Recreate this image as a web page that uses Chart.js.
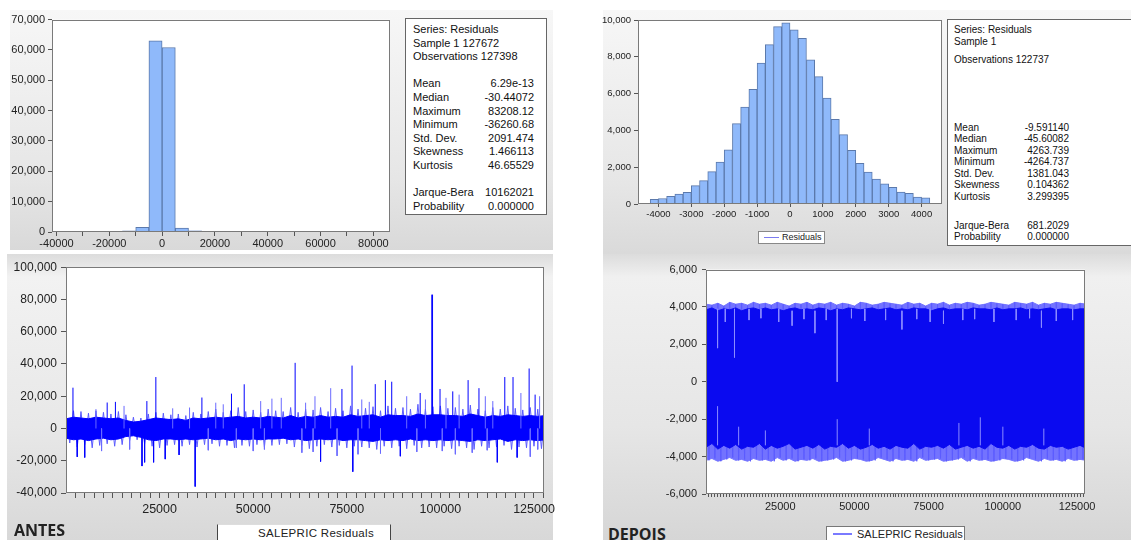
<!DOCTYPE html>
<html>
<head>
<meta charset="utf-8">
<script src="https://cdn.jsdelivr.net/npm/chart.js@4.4.1/dist/chart.umd.min.js"></script>
<style>
html, body { margin: 0; padding: 0; background: #fff; }
body { width: 1131px; height: 540px; position: relative; overflow: hidden;
       font-family: "Liberation Sans", Arial, sans-serif; color: #111; }
.panel { position: absolute; }
canvas { position: absolute; }
.stats { position: absolute; background: #fff; border: 1px solid #666; box-sizing: border-box; }
.row { display: flex; justify-content: space-between; white-space: nowrap; }
.legend { position: absolute; background: #fff; box-sizing: border-box; white-space: nowrap; }
.swatch { position: absolute; height: 0; }
.tag { position: absolute; font-family: "Open Sans", "Liberation Sans", sans-serif; font-weight: 700; font-size: 16px; color: #222; }
</style>
</head>
<body>

<div class="panel" style="left:10px;top:10px;width:543px;height:240px;background:linear-gradient(#f7f7f7,#e6e6e6 70%,#d9d9d9);"></div>
<div class="panel" style="left:603px;top:10px;width:528px;height:248px;background:linear-gradient(#f7f7f7,#e6e6e6 70%,#d9d9d9);"></div>
<div class="panel" style="left:7px;top:254px;width:546px;height:286px;background:linear-gradient(#dcdcdc,#f2f2f2 8%,#e8e8e8 60%,#d8d8d8);"></div>
<div class="panel" style="left:603px;top:254px;width:528px;height:286px;background:linear-gradient(#dcdcdc,#f0f0f0 8%,#e6e6e6 60%,#d6d6d6);"></div>

<canvas id="histAntes" width="395" height="254" style="left:10px;top:10px;"></canvas>
<canvas id="histDepois" width="362" height="216" style="left:596px;top:10px;"></canvas>
<canvas id="lineAntes" width="565" height="262" style="left:10px;top:256px;"></canvas>
<canvas id="lineDepois" width="470" height="262" style="left:650px;top:258px;"></canvas>

<div class="stats" id="statsAntes" style="left:405px;top:18px;width:142px;height:197px;padding:4px 12px 0 7px;font-size:11px;line-height:13.6px;"></div>
<div class="stats" id="statsDepois" style="left:947px;top:19px;width:200px;height:227px;padding:4px 0 0 6px;font-size:10px;line-height:11.5px;"></div>

<div class="legend" style="left:758px;top:231px;width:67px;height:13px;border:1px solid #888;font-size:9px;line-height:11px;padding-left:23px;color:#222;">
  <div class="swatch" style="left:5px;top:5px;width:15px;border-top:1px solid #7b7bf0;"></div>Residuals
</div>
<div class="legend" style="left:217px;top:524px;width:174px;height:20px;border-left:1px solid #444;border-right:1px solid #444;border-top:1px solid #ddd;font-size:11.5px;line-height:16px;padding-left:40px;letter-spacing:0.3px;color:#222;">SALEPRIC Residuals</div>
<div class="legend" style="left:826px;top:526px;width:139px;height:20px;border:1px solid #777;font-size:11px;line-height:14px;padding-left:30px;color:#222;">
  <div class="swatch" style="left:6px;top:6px;width:19px;border-top:2px solid #7a7aff;"></div>SALEPRIC Residuals
</div>
<div class="tag" style="left:14px;top:519px;">ANTES</div>
<div class="tag" style="left:608px;top:523px;">DEPOIS</div>

<script>
// ---- histogram data (bin lower edges and counts) ----
const antesBins = [-40000, -35000, -30000, -25000, -20000, -15000, -10000, -5000, 0, 5000, 10000, 15000,
                   20000, 25000, 30000, 35000, 40000, 45000, 50000, 55000, 60000, 65000, 70000, 75000, 80000];
const antesCounts = [60, 0, 30, 40, 80, 350, 1500, 63000, 60800, 1300, 400, 150,
                     80, 50, 40, 30, 20, 0, 0, 0, 0, 0, 0, 0, 15];
const antesBinWidth = 5000;
const antesHistTicks = [-40000, -30000, -20000, -10000, 0, 10000, 20000, 30000, 40000, 50000, 60000, 70000, 80000];
const antesHistLabels = [-40000, -20000, 0, 20000, 40000, 60000, 80000];

const depoisBins = [-4500, -4250, -4000, -3750, -3500, -3250, -3000, -2750, -2500, -2250, -2000, -1750,
                    -1500, -1250, -1000, -750, -500, -250, 0, 250, 500, 750, 1000, 1250,
                    1500, 1750, 2000, 2250, 2500, 2750, 3000, 3250, 3500, 3750, 4000, 4250];
const depoisCounts = [40, 250, 300, 420, 540, 630, 1000, 1270, 1760, 2280, 2950, 4370,
                      5270, 6230, 7660, 8660, 9640, 9840, 9460, 9000, 7840, 6920, 5760, 4600,
                      3770, 2920, 2210, 1740, 1360, 1090, 910, 650, 580, 380, 330, 40];
const depoisBinWidth = 250;
const depoisHistTicks = [-4000, -3000, -2000, -1000, 0, 1000, 2000, 3000, 4000];

// observation axis labels of the residual plots
const obsLabels = [25000, 50000, 75000, 100000, 125000];
const obsMax = 127672;

// ---- residual series, read as envelopes every 2000 observations ----
const residStep = 2000;
const antesOuterHi = [9000,11000,10500,9500,11000,10000,9000,10500,8500,7000,
  6500,9000,10000,9500,8500,9000,8000,10000,9000,10500,
  12000,10000,11000,13000,10500,11500,10000,12000,11000,10500,
  13000,10000,12000,11500,13000,10500,12500,11000,14000,12000,
  12500,13500,11000,14000,12500,13000,12000,15000,12000,13500,
  14000,12500,13000,12000,14500,12000,11000,13000,12000,14000,
  12500,11500,13000,12000,12500];
const antesOuterLo = [-9000,-11500,-10000,-12000,-10500,-9500,-11000,-10000,-7500,-7000,
  -9500,-11000,-12000,-10500,-10000,-11000,-10000,-11500,-10000,-9500,
  -11000,-10500,-12000,-10500,-11000,-10000,-11500,-10500,-10000,-9500,
  -11500,-10500,-12500,-11000,-10000,-11500,-10500,-12000,-11000,-11500,
  -12000,-13000,-11000,-12000,-11000,-12500,-10500,-12000,-11500,-12000,
  -11000,-12500,-11000,-12000,-13000,-11000,-12000,-11500,-10500,-13000,
  -11500,-12000,-11000,-12500,-12000];
const antesInnerHi = [6000,7000,6500,6000,7000,6500,6000,6500,5000,4000,
  4500,5500,6500,6000,5500,6000,5000,6500,6000,6500,
  7000,6500,7000,7500,6500,7000,6500,7500,7000,6500,
  8000,6500,7500,7000,8000,7000,7500,7000,8500,7500,
  8000,8500,7000,8500,8000,8000,7500,9000,8000,8500,
  8500,8000,8000,7500,9000,8000,7000,8000,7500,8500,
  8000,7500,8000,7500,8000];
const antesInnerLo = [-6000,-7000,-6500,-7500,-6500,-6000,-7000,-6500,-5000,-4500,
  -5500,-7000,-7500,-6500,-6500,-7000,-6500,-7000,-6500,-6000,
  -7000,-6500,-7500,-6500,-7000,-6500,-7000,-6500,-6500,-6000,
  -7000,-6500,-7500,-7000,-6500,-7000,-6500,-7500,-7000,-7000,
  -7500,-8000,-7000,-7500,-7000,-7500,-6500,-7500,-7000,-7500,
  -7000,-7500,-7000,-7500,-8000,-7000,-7500,-7000,-6500,-8000,
  -7000,-7500,-7000,-7500,-7000];
// isolated spikes [observation, residual]
const antesSpikesDark = [[1860,25300],[3000,-17600],[5000,-18000],[11000,16100],[13200,16500],[20300,-23300],
  [21000,-21000],[21600,17000],[23400,-21000],[24000,31900],[26500,-19000],[30200,-16400],[34500,-36000],
  [36300,19200],[44200,21600],[47600,27400],[61200,40700],[68000,-20500],[73700,24500],[76400,39000],
  [76600,-26800],[82600,27500],[85300,30000],[87000,29000],[89300,-17200],[94600,22000],[97700,83000],
  [97900,83000],[99900,24500],[103300,23000],[107400,30000],[110300,25000],[115200,-21000],[117200,31900],
  [119400,31900],[120500,-18000],[123700,37200],[125300,21000]];
const antesSpikesLight = [[70700,25000],[8000,12000],[15500,14000],[28500,12500],[33000,13000],[40000,16000],
  [42000,15000],[52000,17000],[55000,18500],[57500,19000],[64000,16000],[66500,20000],[79000,18000],
  [81000,16500],[91000,20000],[96000,18000],[101500,19000],[105000,21000],[112000,20000],[114000,17000],
  [121500,22000],[126500,20000],[9500,-14000],[17000,-13000],[38000,-13500],[45500,-12000],[50000,-14000],
  [53000,-13000],[63000,-15000],[66000,-14500],[72400,-17000],[78000,-16000],[84000,-15500],[93700,-14500],
  [100500,-14000],[104000,-16000],[108500,-15000],[112500,-13500],[124000,-17500],[126000,-13000]];

const depoisOuterHi = [4150,4100,4200,4050,4250,4150,4200,4100,4250,4150,
  4200,4100,4250,4150,4050,4200,4150,4250,4100,4200,
  4150,4250,4100,4200,4150,4050,4250,4200,4100,4150,
  4250,4200,4150,4100,4250,4150,4200,4050,4200,4150,
  4250,4100,4200,4150,4250,4200,4100,4150,4250,4200,
  4150,4100,4250,4200,4150,4250,4100,4200,4150,4250,
  4200,4150,4100,4200,4150];
const depoisOuterLo = [-4200,-4100,-4250,-4150,-4050,-4200,-4150,-4250,-4100,-4200,
  -4150,-4250,-4050,-4200,-4100,-4250,-4150,-4200,-4100,-4250,
  -4200,-4150,-4050,-4250,-4200,-4100,-4150,-4250,-4200,-4050,
  -4150,-4250,-4100,-4200,-4150,-4250,-4050,-4200,-4150,-4100,
  -4250,-4200,-4150,-4050,-4250,-4100,-4200,-4150,-4250,-4200,
  -4100,-4150,-4250,-4200,-4050,-4150,-4250,-4100,-4200,-4150,
  -4250,-4100,-4200,-4150,-4200];
const depoisInnerHi = [3850,3950,3800,3900,3850,3950,3800,3900,3950,3850,
  3950,3850,3900,3800,3900,3950,3850,3900,3850,3950,
  3900,3800,3900,3850,3950,3900,3850,3900,3950,3850,
  3900,3950,3850,3900,3850,3950,3900,3900,3800,3900,
  3950,3850,3900,3900,3850,3950,3900,3900,3850,3950,
  3850,3900,3900,3950,3850,3900,3850,3900,3950,3850,
  3900,3900,3850,3900,3900];
const depoisInnerLo = [-3500,-3300,-3600,-3400,-3550,-3350,-3600,-3450,-3500,-3300,
  -3600,-3400,-3550,-3450,-3300,-3600,-3500,-3400,-3550,-3350,
  -3600,-3450,-3500,-3300,-3550,-3400,-3600,-3500,-3350,-3550,
  -3450,-3600,-3400,-3500,-3550,-3300,-3600,-3450,-3500,-3400,
  -3550,-3350,-3600,-3500,-3400,-3550,-3450,-3600,-3300,-3500,
  -3550,-3400,-3600,-3450,-3500,-3350,-3550,-3600,-3400,-3500,
  -3450,-3600,-3500,-3400,-3550];
// light streaks inside the band [observation, from, to]
const depoisStreaks = [[3900,3900,1800],[9600,3900,1300],[36700,3800,2600],[44200,3900,0],[29000,3800,3000],
  [66000,3800,2800],[80000,3800,3100],[113000,3800,2900],[3900,-3400,-1300],[44200,-3400,-2000],
  [85200,-3400,-2200],[92400,-3400,-1900],[113800,-3400,-2500],[11000,-3400,-2400],[20000,-3400,-2600],
  [55000,-3400,-2500],[100000,-3400,-2400],
  [6500,3900,3200],[14500,3900,3300],[18500,3900,3400],[24500,3900,3200],[33000,3900,3350],[40500,3900,3300],
  [49000,3900,3400],[53500,3900,3250],[60500,3900,3300],[71000,3900,3350],[75500,3900,3200],[86500,3900,3300],
  [90500,3900,3350],[97000,3900,3200],[104500,3900,3300],[109000,3900,3400],[118000,3900,3250],[123500,3900,3300]];

// ---- descriptive statistics ----
const antesHeader = ['Series: Residuals', 'Sample 1 127672', 'Observations 127398'];
const antesStats = [['Mean', '6.29e-13'], ['Median', '-30.44072'], ['Maximum', '83208.12'], ['Minimum', '-36260.68'],
                    ['Std. Dev.', '2091.474'], ['Skewness', '1.466113'], ['Kurtosis', '46.65529']];
const antesTest = [['Jarque-Bera', '10162021'], ['Probability', '0.000000']];
const depoisHeader = ['Series: Residuals', 'Sample 1', 'Observations 122737'];
const depoisStats = [['Mean', '-9.591140'], ['Median', '-45.60082'], ['Maximum', '4263.739'], ['Minimum', '-4264.737'],
                     ['Std. Dev.', '1381.043'], ['Skewness', '0.104362'], ['Kurtosis', '3.299395']];
const depoisTest = [['Jarque-Bera', '681.2029'], ['Probability', '0.000000']];

Chart.defaults.font.family = '"Liberation Sans", Arial, sans-serif';
Chart.defaults.color = '#222';

function boxSize(px) {
  return function (scale) {
    if (scale.isHorizontal()) scale.height = px; else scale.width = px;
  };
}
// put the ticks exactly where we want them
function fixedTicks(values) {
  return function (scale) { scale.ticks = values.map(v => ({ value: v })); };
}
function obsTicks(step) {
  return function (scale) {
    const t = [];
    for (let v = step; v <= obsMax; v += step) t.push({ value: v });
    scale.ticks = t;
  };
}
function labelOnly(list) {
  return v => (list.includes(v) ? String(v) : '');
}

const framePlugin = {
  id: 'frame',
  beforeDraw(chart) {
    const a = chart.chartArea, ctx = chart.ctx;
    ctx.save();
    ctx.fillStyle = '#fff';
    ctx.fillRect(a.left, a.top, a.right - a.left, a.bottom - a.top);
    ctx.restore();
  },
  afterDraw(chart) {
    const a = chart.chartArea, ctx = chart.ctx;
    ctx.save();
    ctx.strokeStyle = '#7a7a7a';
    ctx.lineWidth = 1;
    ctx.strokeRect(Math.round(a.left) + 0.5, Math.round(a.top) + 0.5,
                   Math.round(a.right - a.left) - 1, Math.round(a.bottom - a.top) - 1);
    ctx.restore();
  }
};

function tickGrid(len) {
  return { display: true, drawOnChartArea: false, tickLength: len, tickColor: '#555', offset: false };
}
const baseOptions = {
  responsive: false,
  animation: false,
  devicePixelRatio: 1,
  events: [],
  plugins: { legend: { display: false }, tooltip: { enabled: false } }
};

// ---- histogram, before ----
new Chart(document.getElementById('histAntes'), {
  type: 'bar',
  data: {
    datasets: [{
      label: 'Residuals',
      data: antesBins.map((b, i) => ({ x: b + antesBinWidth / 2, y: antesCounts[i] })),
      backgroundColor: '#8fb9fa',
      borderColor: '#5b79ab',
      borderWidth: 1,
      barPercentage: 1,
      categoryPercentage: 1,
      grouped: false
    }]
  },
  options: Object.assign({}, baseOptions, {
    layout: { padding: { top: 7, right: 15, left: 0, bottom: 0 } },
    scales: {
      x: {
        type: 'linear', min: -41700, max: 86300, offset: false,
        ticks: { autoSkip: false, maxRotation: 0, padding: 1, font: { size: 11 }, callback: labelOnly(antesHistLabels) },
        grid: tickGrid(4), border: { display: false },
        afterBuildTicks: fixedTicks(antesHistTicks), afterFit: boxSize(32)
      },
      y: {
        min: 0, max: 70000,
        ticks: { stepSize: 10000, padding: 3, font: { size: 11 }, callback: v => v.toLocaleString('en-US') },
        grid: tickGrid(4), border: { display: false },
        afterFit: boxSize(42)
      }
    }
  }),
  plugins: [framePlugin]
});

// ---- histogram, after ----
new Chart(document.getElementById('histDepois'), {
  type: 'bar',
  data: {
    datasets: [{
      label: 'Residuals',
      data: depoisBins.map((b, i) => ({ x: b + depoisBinWidth / 2, y: depoisCounts[i] })),
      backgroundColor: '#8fb9fa',
      borderColor: '#5b79ab',
      borderWidth: 1,
      barPercentage: 1,
      categoryPercentage: 1,
      grouped: false
    }]
  },
  options: Object.assign({}, baseOptions, {
    layout: { padding: { top: 10, right: 16, left: 0, bottom: 0 } },
    scales: {
      x: {
        type: 'linear', min: -4620, max: 4620, offset: false,
        ticks: { autoSkip: false, maxRotation: 0, padding: 2, font: { size: 9.5 }, callback: v => String(v) },
        grid: tickGrid(3), border: { display: false },
        afterBuildTicks: fixedTicks(depoisHistTicks), afterFit: boxSize(22)
      },
      y: {
        min: 0, max: 10000,
        ticks: { stepSize: 2000, padding: 3, font: { size: 9.5 }, callback: v => v.toLocaleString('en-US') },
        grid: tickGrid(4), border: { display: false },
        afterFit: boxSize(42)
      }
    }
  }),
  plugins: [framePlugin]
});

// helpers turning envelopes / spikes into drawable point lists
function envelope(values) {
  return values.map((v, i) => ({ x: i * residStep, y: v }));
}
function zigzag(hi, lo) {
  const pts = [];
  hi.forEach((v, i) => {
    pts.push({ x: i * residStep, y: v });
    pts.push({ x: i * residStep + residStep / 2, y: lo[i] });
  });
  return pts;
}
function spikes(list) {
  const pts = [];
  list.forEach(([x, y]) => { pts.push({ x, y: 0 }, { x, y }, { x, y: null }); });
  return pts;
}
function streaks(list) {
  const pts = [];
  list.forEach(([x, a, b]) => { pts.push({ x, y: a }, { x, y: b }, { x, y: null }); });
  return pts;
}
function lineSet(label, data, color, order, extra) {
  return Object.assign({
    label, data, borderColor: color, backgroundColor: color, borderWidth: 1,
    pointRadius: 0, tension: 0, spanGaps: false, fill: false, order
  }, extra || {});
}

// ---- residuals, before ----
new Chart(document.getElementById('lineAntes'), {
  type: 'line',
  data: {
    datasets: [
      lineSet('SALEPRIC Residuals', zigzag(antesOuterHi, antesOuterLo), '#5a5aff', 6),
      lineSet('core high', envelope(antesInnerHi), '#0000ff', 5, { fill: '+1' }),
      lineSet('core low', envelope(antesInnerLo), '#0000ff', 4),
      lineSet('spikes light', spikes(antesSpikesLight), '#6a6aff', 3),
      lineSet('spikes', spikes(antesSpikesDark), '#0000ff', 2)
    ]
  },
  options: Object.assign({}, baseOptions, {
    layout: { padding: { top: 10, right: 31, left: 0, bottom: 0 } },
    scales: {
      x: {
        type: 'linear', min: 0, max: obsMax,
        ticks: { autoSkip: false, maxRotation: 0, padding: 4, font: { size: 12.5 }, callback: labelOnly(obsLabels) },
        grid: tickGrid(5), border: { display: false },
        afterBuildTicks: obsTicks(2500), afterFit: boxSize(25)
      },
      y: {
        min: -40000, max: 100000,
        ticks: { stepSize: 20000, padding: 4, font: { size: 12 }, callback: v => v.toLocaleString('en-US') },
        grid: tickGrid(5), border: { display: false },
        afterFit: boxSize(56)
      }
    }
  }),
  plugins: [framePlugin]
});

// ---- residuals, after ----
new Chart(document.getElementById('lineDepois'), {
  type: 'line',
  data: {
    datasets: [
      lineSet('SALEPRIC Residuals', envelope(depoisOuterHi), '#7373ff', 6, { fill: '+1' }),
      lineSet('outer low', envelope(depoisOuterLo), '#7373ff', 5),
      lineSet('hair', zigzag(depoisOuterHi, depoisOuterLo), '#5c5cff', 4),
      lineSet('core high', envelope(depoisInnerHi), '#0a0af0', 3, { fill: '+1' }),
      lineSet('core low', envelope(depoisInnerLo), '#0a0af0', 2),
      lineSet('streaks', streaks(depoisStreaks), '#8c8cff', 1)
    ]
  },
  options: Object.assign({}, baseOptions, {
    layout: { padding: { top: 10, right: 35, left: 0, bottom: 0 } },
    scales: {
      x: {
        type: 'linear', min: 0, max: obsMax,
        ticks: { autoSkip: false, maxRotation: 0, padding: 3, font: { size: 11 }, callback: labelOnly(obsLabels) },
        grid: tickGrid(3), border: { display: false },
        afterBuildTicks: obsTicks(1000), afterFit: boxSize(26)
      },
      y: {
        min: -6000, max: 6000,
        ticks: { stepSize: 2000, padding: 5, font: { size: 11 }, callback: v => v.toLocaleString('en-US') },
        grid: tickGrid(4), border: { display: false },
        afterFit: boxSize(56)
      }
    }
  }),
  plugins: [framePlugin]
});

// ---- statistics boxes ----
function fillStats(el, header, stats, test, opts) {
  let html = '';
  header.forEach((t, i) => {
    const mt = i === 2 ? opts.obsGap : 0;
    html += '<div style="margin-top:' + mt + 'px">' + t + '</div>';
  });
  const row = ([k, v]) => '<div class="row" style="width:' + opts.rowWidth + 'px"><span>' + k + '</span><span>' + v + '</span></div>';
  html += '<div style="margin-top:' + opts.statsGap + 'px">' + stats.map(row).join('') + '</div>';
  html += '<div style="margin-top:' + opts.testGap + 'px">' + test.map(row).join('') + '</div>';
  el.innerHTML = html;
}
fillStats(document.getElementById('statsAntes'), antesHeader, antesStats, antesTest,
          { obsGap: 0, statsGap: 13.6, testGap: 13.6, rowWidth: 121 });
fillStats(document.getElementById('statsDepois'), depoisHeader, depoisStats, depoisTest,
          { obsGap: 7, statsGap: 56, testGap: 17.5, rowWidth: 115 });
</script>
</body>
</html>
